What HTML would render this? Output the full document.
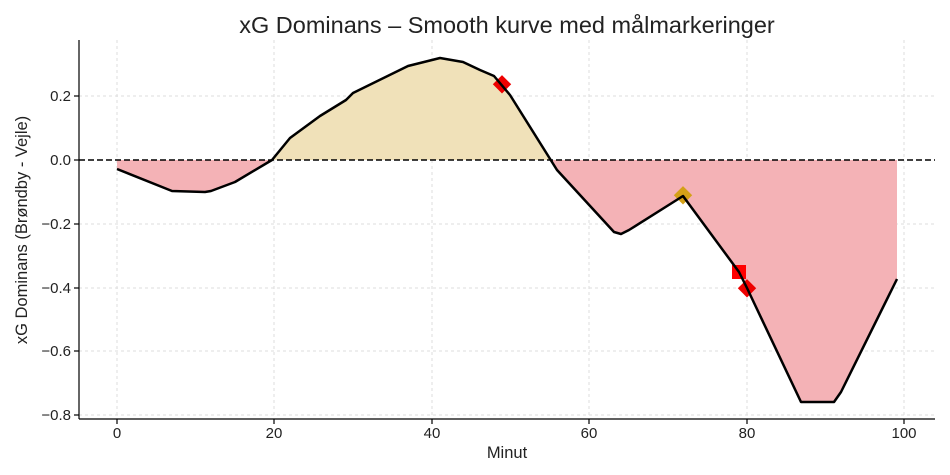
<!DOCTYPE html>
<html><head><style>body{margin:0;background:#fff}svg{display:block}text{font-family:"Liberation Sans","DejaVu Sans",sans-serif;fill:#222}</style></head>
<body>
<svg width="950" height="475" viewBox="0 0 950 475">
<defs>
<clipPath id="above"><rect x="79" y="0" width="860" height="160"/></clipPath>
<clipPath id="below"><rect x="79" y="160" width="860" height="300"/></clipPath>
</defs>
<text x="507" y="33" font-size="23.5" text-anchor="middle" fill="#333">xG Dominans – Smooth kurve med målmarkeringer</text>
<g stroke="#ddd" stroke-width="1" stroke-dasharray="3,3">
<line x1="117" y1="40" x2="117" y2="418"/><line x1="274" y1="40" x2="274" y2="418"/><line x1="432" y1="40" x2="432" y2="418"/><line x1="589" y1="40" x2="589" y2="418"/><line x1="747" y1="40" x2="747" y2="418"/><line x1="904" y1="40" x2="904" y2="418"/>
<line x1="79" y1="96" x2="935" y2="96"/><line x1="79" y1="224" x2="935" y2="224"/><line x1="79" y1="288" x2="935" y2="288"/><line x1="79" y1="351" x2="935" y2="351"/><line x1="79" y1="415" x2="935" y2="415"/>
</g>
<g id="f">
<polygon clip-path="url(#above)" fill="#f0e1b9" points="117,160 117,169 172,191 205,192 211,191 235,182 272,160 290,138 320,116 346,100 353,93 408,66 440,58 463,62 480,70 494,76 510,95 557,170 614,232 621,234 629,230 683,196 739,272 747,288 801,402 834,402 841,392 897,279 897,160"/>
<polygon clip-path="url(#below)" fill="#f4b2b6" points="117,160 117,169 172,191 205,192 211,191 235,182 272,160 290,138 320,116 346,100 353,93 408,66 440,58 463,62 480,70 494,76 510,95 557,170 614,232 621,234 629,230 683,196 739,272 747,288 801,402 834,402 841,392 897,279 897,160"/>
</g>
<line x1="79" y1="160" x2="935" y2="160" stroke="#000" stroke-width="1.6" stroke-dasharray="6,3"/>
<rect x="495" y="78" width="13" height="13" fill="#e00" transform="rotate(45 502 85)"/>
<rect x="676" y="189" width="13" height="13" fill="#d4a017" transform="rotate(45 683 196)"/>
<rect x="732" y="265" width="14" height="14" fill="#f00"/>
<rect x="740" y="282" width="13" height="13" fill="#e00" transform="rotate(45 747 289)"/>
<polyline fill="none" stroke="#000" stroke-width="2.5" stroke-linejoin="round" points="117,169 172,191 205,192 211,191 235,182 272,160 290,138 320,116 346,100 353,93 408,66 440,58 463,62 480,70 494,76 510,95 557,170 614,232 621,234 629,230 683,196 739,272 747,288 801,402 834,402 841,392 897,279"/>
<g stroke="#000" stroke-width="1.2">
<line x1="79" y1="40" x2="79" y2="419"/><line x1="79" y1="419" x2="935" y2="419"/>
<line x1="117" y1="419" x2="117" y2="424"/><line x1="274" y1="419" x2="274" y2="424"/><line x1="432" y1="419" x2="432" y2="424"/><line x1="589" y1="419" x2="589" y2="424"/><line x1="747" y1="419" x2="747" y2="424"/><line x1="904" y1="419" x2="904" y2="424"/>
<line x1="74" y1="96" x2="79" y2="96"/><line x1="74" y1="160" x2="79" y2="160"/><line x1="74" y1="224" x2="79" y2="224"/><line x1="74" y1="288" x2="79" y2="288"/><line x1="74" y1="351" x2="79" y2="351"/><line x1="74" y1="415" x2="79" y2="415"/>
</g>
<g font-size="15" text-anchor="middle">
<text x="117" y="438">0</text><text x="274" y="438">20</text><text x="432" y="438">40</text><text x="589" y="438">60</text><text x="747" y="438">80</text><text x="904" y="438">100</text>
</g>
<g font-size="15" text-anchor="end">
<text x="71" y="101">0.2</text><text x="71" y="165">0.0</text><text x="71" y="229">−0.2</text><text x="71" y="293">−0.4</text><text x="71" y="356">−0.6</text><text x="71" y="420">−0.8</text>
</g>
<text x="507" y="458" font-size="16.5" text-anchor="middle">Minut</text>
<text transform="translate(27 230) rotate(-90)" font-size="16.5" text-anchor="middle">xG Dominans (Brøndby - Vejle)</text>
</svg>
</body></html>
